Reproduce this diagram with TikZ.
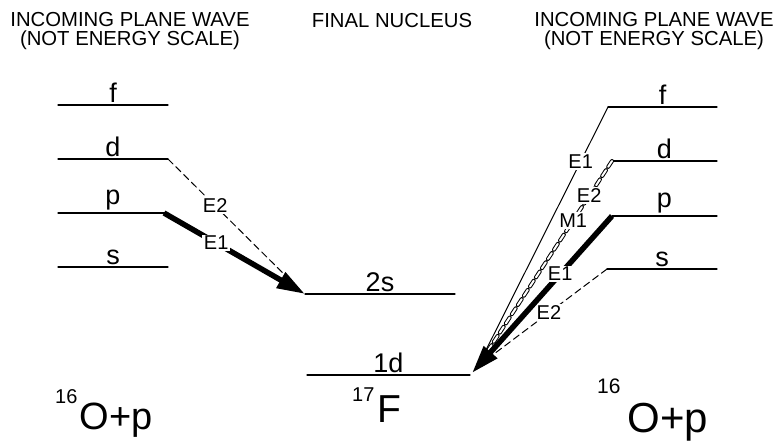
\documentclass[tikz,border=0pt]{standalone}
\usepackage{fontspec}
\setmainfont{Liberation Sans}
\usetikzlibrary{arrows.meta}

\begin{document}
\begin{tikzpicture}[line cap=round,line join=round,x=1pt,y=-1pt,
  level/.style={line width=1.3pt},
  lvl/.style={above,inner sep=2pt,font=\fontsize{27}{27}\selectfont},
  head/.style={align=center,inner sep=0pt,font=\fontsize{20.3}{19}\selectfont},
  mult/.style={fill=white,inner sep=1.5pt,font=\fontsize{20}{20}\selectfont},
  strong/.style={line width=5.5pt,line cap=butt},
  weak/.style={line width=1pt},
  dashline/.style={dash pattern=on 7pt off 4pt},
  >={Triangle[length=28pt,width=17pt]}]
\useasboundingbox (0,0) rectangle (782,443);

\node[head] (wavel) at (130,31) {INCOMING PLANE WAVE\\(NOT ENERGY SCALE)};
\node[head,anchor=base] (final) at (392,28) {FINAL NUCLEUS};
\node[head] (waver) at (654,31) {INCOMING PLANE WAVE\\(NOT ENERGY SCALE)};

% left partial waves
\draw [level] (58,105)-- node[lvl] {f} (168,105);
\draw [level] (58,159)-- node[lvl] {d} (168,159) coordinate (dl);
\draw [level] (58,213)-- node[lvl] {p} (168,213);
\draw [level] (58,267)-- node[lvl] {s} (168,267);
\coordinate (pl) at (164,213);

% final states
\draw [level] (305,294) coordinate (tipl) -- node[lvl] {2s} (455,294);
\draw [level] (307,375)-- node[lvl] {1d} (470,375);
\coordinate (tipr) at (472,373);
\coordinate (endl) at (299,289);
\coordinate (endr) at (478,366);

% right partial waves
\draw [level] (608,107) coordinate (fr) -- node[lvl] {f} (717,107);
\draw [level] (612,161) coordinate (dr) -- node[lvl] {d} (717,161);
\draw [level] (612,216) coordinate (pr) -- node[lvl] {p} (717,216);
\draw [level] (607,269) coordinate (sr) -- node[lvl] {s} (717,269);

% transitions to 2s
\draw [weak,dashline] (dl)-- node[mult,pos=0.36] {E2} (endl);
\draw [strong,->] (pl)-- node[mult,pos=0.37] {E1} (tipl);

% transitions to 1d
\draw [weak] (fr)-- node[mult,pos=0.21] {E1} (endr);
\draw [weak,dashline,double,double distance=2pt] (dr)-- node[mult,pos=0.17] {E2} node[mult,pos=0.29] {M1} (endr);
\draw [weak,dashline] (sr)-- node[mult,pos=0.45] {E2} (endr);
\draw [strong,->] (pr)-- node[mult,pos=0.37] {E1} (tipr);

\node[anchor=base west,inner sep=0pt] (nucl) at (55,430) {\fontsize{20}{20}\selectfont\raisebox{26pt}{16}\kern2pt\fontsize{38}{38}\selectfont O+p};
\node[anchor=base west,inner sep=0pt] (fluor) at (352,423) {\fontsize{20}{20}\selectfont\raisebox{21pt}{17}\kern3pt\fontsize{39}{39}\selectfont F};
\node[anchor=base west,inner sep=0pt] (nucr) at (597,432) {\fontsize{21}{21}\selectfont\raisebox{39pt}{16}\kern7pt\fontsize{42}{42}\selectfont O+p};
\end{tikzpicture}
\end{document}
